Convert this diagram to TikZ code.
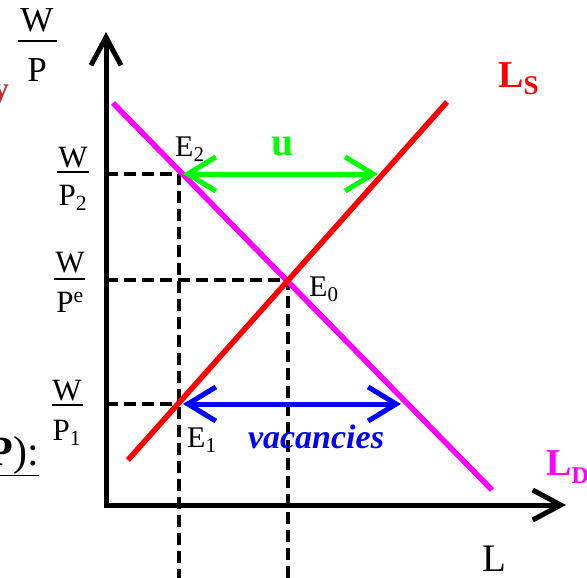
\documentclass[tikz,border=0pt]{standalone}
\usepackage{fontspec}
\setmainfont{Liberation Serif}
\usetikzlibrary{arrows.meta}
\definecolor{lsred}{RGB}{255,0,0}
\definecolor{ldmag}{RGB}{255,0,255}
\definecolor{ugreen}{RGB}{0,255,0}
\definecolor{vblue}{RGB}{0,0,255}
\definecolor{fragred}{RGB}{200,40,40}
\newcommand{\fsz}[1]{\fontsize{#1}{#1}\selectfont}
\begin{document}
\begin{tikzpicture}[x=1pt,y=-1pt,
  axis/.style={line width=5pt,-{Straight Barb[length=28pt,width=30pt]}},
  guide/.style={line width=3.5pt,dash pattern=on 12pt off 6pt},
  curve/.style={line width=5.5pt},
  gap/.style={line width=5pt,{Straight Barb[length=28pt,width=34pt]}-{Straight Barb[length=28pt,width=34pt]}},
  lbl/.style={inner sep=0pt,font=\fsz{30}},
  frac/.style={inner sep=0pt,font=\fsz{31}},
  bar/.style={line width=2.5pt}]
\useasboundingbox (0,0) rectangle (587,578);
\clip (0,0) rectangle (587,578);
% coordinates
\coordinate (Ybot) at (106,507.5);
\coordinate (Ytop) at (106,32);
\coordinate (Xbeg) at (103.5,505);
\coordinate (Xend) at (566,505);
\coordinate (A2) at (106,174);
\coordinate (E2) at (179,174);
\coordinate (B2) at (179,582);
\coordinate (Ae) at (106,280);
\coordinate (E0) at (288,280);
\coordinate (Be) at (288,582);
\coordinate (A1) at (106,404);
\coordinate (E1) at (179,404);
\coordinate (LSa) at (128,460);
\coordinate (LSb) at (447,102);
\coordinate (LDa) at (113,103);
\coordinate (LDb) at (492,490);
\coordinate (U1) at (183,174);
\coordinate (U2) at (378,174);
\coordinate (V1) at (183,404);
\coordinate (V2) at (401,404);
% dashed guides
\draw[guide] (A2) -- (E2) -- (B2);
\draw[guide] (Ae) -- (E0) -- (Be);
\draw[guide] (A1) -- (E1);
% axes
\draw[axis] (Ybot) -- (Ytop);
\draw[axis] (Xbeg) -- (Xend);
% curves
\draw[curve,ldmag] (LDa) -- (LDb);
\draw[curve,lsred] (LSa) -- (LSb);
% gap arrows
\draw[gap,ugreen] (U1) -- (U2);
\draw[gap,vblue] (V1) -- (V2);
% labels of points
\node[lbl,anchor=base west] (e2) at (175,156) {E\textsubscript{2}};
\node[lbl,anchor=base west] (e0) at (309,296) {E\textsubscript{0}};
\node[lbl,anchor=base west] (e1) at (187,447) {E\textsubscript{1}};
\node[inner sep=0pt,anchor=base,text=ugreen,font=\bfseries\fsz{40}] (u) at (283,155) {u};
\node[inner sep=0pt,anchor=base,text=vblue,font=\bfseries\itshape\fsz{34}] (vac) at (316,448) {vacancies};
% curve labels
\node[inner sep=0pt,anchor=base west,text=lsred,font=\bfseries\fsz{38}] (ls) at (498,88) {L\raisebox{-7pt}{\fsz{27}S}};
\node[inner sep=0pt,anchor=base west,text=ldmag,font=\bfseries\fsz{38}] (ld) at (546,475) {L\raisebox{-8pt}{\fsz{24}D}};
\node[inner sep=0pt,anchor=base west,font=\fsz{39}] (lx) at (482,571) {L};
% axis fraction W/P
\node[inner sep=0pt,anchor=base,font=\fsz{35}] (wt) at (37,32) {W};
\draw[bar] (18,41) -- (57,41);
\node[inner sep=0pt,anchor=base,font=\fsz{35}] (pt) at (37,82) {P};
% W/P2
\node[frac,anchor=base] (w2) at (73,167) {W};
\draw[bar] (57,172) -- (89,172);
\node[frac,anchor=base] (p2) at (73,205) {P\textsubscript{2}};
% W/Pe
\node[frac,anchor=base] (we) at (70,272) {W};
\draw[bar] (54,279) -- (85,279);
\node[frac,anchor=base] (pe) at (70,312) {P\textsuperscript{e}};
% W/P1
\node[frac,anchor=base] (w1) at (67,400) {W};
\draw[bar] (52,405) -- (83,405);
\node[frac,anchor=base] (p1) at (67,440) {P\textsubscript{1}};
% cut-off fragments at the left edge
\node[inner sep=0pt,anchor=north east,text=fragred,font=\bfseries\fsz{32}] (frag) at (9,85) {y};
\node[inner sep=0pt,anchor=base east,font=\fsz{42}] (pcolon) at (39,465) {\underline{\textbf{P}):}};
\end{tikzpicture}
\end{document}
